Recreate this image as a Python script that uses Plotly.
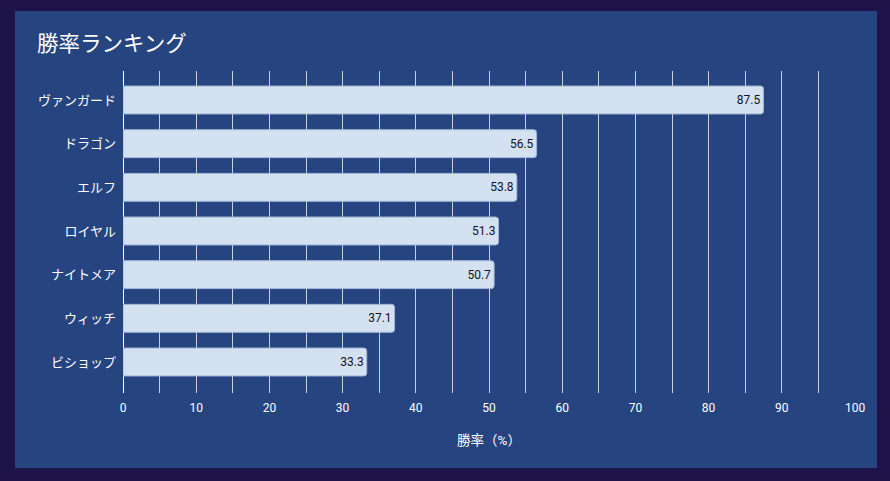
import plotly.graph_objects as go

categories = ["ヴァンガード", "ドラゴン", "エルフ", "ロイヤル", "ナイトメア", "ウィッチ", "ビショップ"]
win_rates = [87.5, 56.5, 53.8, 51.3, 50.7, 37.1, 33.3]
title_text = "勝率ランキング"
x_title = "勝率（%）"

W, H = 890, 481
L, R, T, B = 123, 855, 71, 393
pw, ph = R - L, B - T

def px_x(p):
    return (p - L) / pw

def px_y(p):
    return (B - p) / ph

FONT = "Roboto, 'Noto Sans CJK JP', sans-serif"

fig = go.Figure(go.Bar(
    x=win_rates, y=categories, orientation="h",
    marker=dict(color="#d3e1f1", line=dict(color="#9fb4d6", width=1)),
    width=0.64,
    text=[f"{v:.1f}" for v in win_rates],
    textposition="inside", insidetextanchor="end",
    textfont=dict(color="#111122", size=12, family=FONT),
    hoverinfo="skip",
))

fig.update_layout(
    width=W, height=H,
    paper_bgcolor="#1e1449", plot_bgcolor="rgba(0,0,0,0)",
    margin=dict(l=L, r=W - R, t=T, b=H - B, pad=0),
    barcornerradius=3,
    font=dict(family=FONT, color="white", size=12),
    showlegend=False,
    title=dict(text=title_text, x=37 / W, xref="container", xanchor="left",
               y=1 - 43 / H, yref="container", yanchor="middle",
               font=dict(size=21.5, color="white", family=FONT)),
    xaxis=dict(range=[0, 100], dtick=10, tick0=0, showgrid=True,
               gridcolor="rgba(255,255,255,0.75)", gridwidth=1,
               minor=dict(dtick=5, showgrid=True, gridcolor="rgba(255,255,255,0.75)", gridwidth=1),
               zeroline=True, zerolinecolor="white", zerolinewidth=1,
               showline=False, ticks="", ticklabelstandoff=6,
               tickfont=dict(color="white", size=12, family=FONT),
               title=dict(text=x_title, standoff=21, font=dict(color="white", size=13.5, family=FONT)),
               fixedrange=True),
    yaxis=dict(categoryorder="array", categoryarray=categories,
               range=[6 + (B - 362) / 43.67, -(100 - T) / 43.67],
               showgrid=False, zeroline=False, showline=False, ticks="",
               ticklabelstandoff=6,
               tickfont=dict(color="white", size=13, family=FONT),
               fixedrange=True),
    shapes=[dict(type="rect", xref="paper", yref="paper", layer="below",
                 x0=px_x(15), x1=px_x(877), y0=px_y(468), y1=px_y(11),
                 fillcolor="#264480", line=dict(width=0))],
)

fig.write_html("out.html", config={"displayModeBar": False},
               post_script="document.body.style.margin='0';document.body.style.background='#1e1449';")
